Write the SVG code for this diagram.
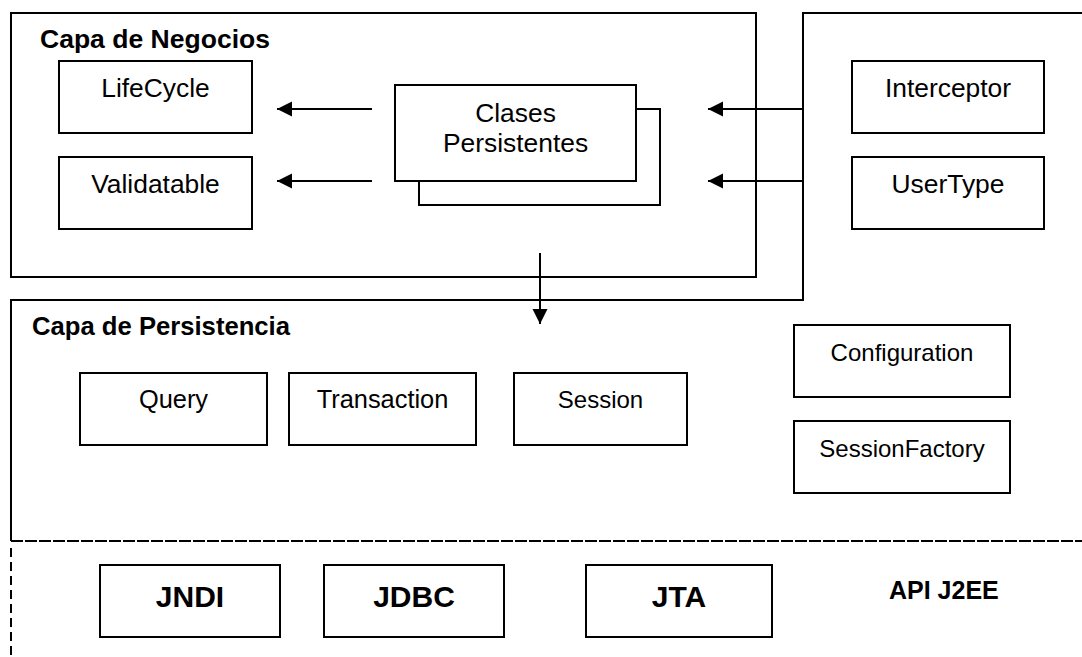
<svg xmlns="http://www.w3.org/2000/svg" width="1082" height="657" viewBox="0 0 1082 657">
<defs>
<style>
.box{fill:#fff;stroke:#000;stroke-width:2}
.ln{fill:none;stroke:#000;stroke-width:2}
.t{font-family:"Liberation Sans",Arial,sans-serif;font-size:24px;fill:#000;text-anchor:middle}
.tl{font-size:26.4px}
.tm{font-size:25.4px}
.h{font-family:"Liberation Sans",Arial,sans-serif;font-size:26px;font-weight:bold;fill:#000}
.b{font-family:"Liberation Sans",Arial,sans-serif;font-size:30px;font-weight:bold;fill:#000;text-anchor:middle}
</style>
<marker id="arr" markerWidth="16" markerHeight="16" refX="15" refY="7.5" orient="auto" markerUnits="userSpaceOnUse">
<path d="M0,0 L15,7.5 L0,15 Z" fill="#000"/>
</marker>
</defs>
<rect width="1082" height="657" fill="#fff"/>
<g id="layers">
<rect id="capa-negocios" x="11" y="13" width="745" height="264" class="ln"/>
<text class="h" x="40" y="48" textLength="230" lengthAdjust="spacingAndGlyphs">Capa de Negocios</text>
<path id="capa-persistencia" d="M1083,13 H803 V300 H11 V541" class="ln"/>
<text class="h" x="32" y="335" textLength="258" lengthAdjust="spacingAndGlyphs">Capa de Persistencia</text>
<line x1="11" y1="541" x2="1082" y2="541" stroke="#000" stroke-width="2" stroke-dasharray="12 2"/>
<line x1="11" y1="548" x2="11" y2="657" stroke="#000" stroke-width="2" stroke-dasharray="9 5"/>
<text class="h" x="889" y="599" style="font-size:25px">API J2EE</text>
</g>
<g id="lifecycle"><rect class="box" x="59" y="61" width="193" height="72"/><text class="t tl" x="155.5" y="97">LifeCycle</text></g>
<g id="validatable"><rect class="box" x="59" y="157" width="193" height="72"/><text class="t tl" x="155.5" y="193">Validatable</text></g>
<g id="clases-persistentes">
<rect class="box" x="419" y="109" width="241" height="96"/>
<rect class="box" x="395" y="85" width="241" height="96"/>
<text class="t tl" x="515.5" y="122">Clases</text>
<text class="t tl" x="515.5" y="152">Persistentes</text>
</g>
<g id="interceptor"><rect class="box" x="852" y="61" width="192" height="72"/><text class="t tl" x="948" y="97">Interceptor</text></g>
<g id="usertype"><rect class="box" x="852" y="157" width="192" height="72"/><text class="t tl" x="948" y="193">UserType</text></g>
<g id="query"><rect class="box" x="80" y="373" width="187" height="72"/><text class="t tm" x="173.5" y="408">Query</text></g>
<g id="transaction"><rect class="box" x="289" y="373" width="187" height="72"/><text class="t tm" x="382.5" y="408">Transaction</text></g>
<g id="session"><rect class="box" x="514" y="373" width="173" height="72"/><text class="t" x="600.5" y="408">Session</text></g>
<g id="configuration"><rect class="box" x="794" y="325" width="216" height="72"/><text class="t" x="902" y="361">Configuration</text></g>
<g id="sessionfactory"><rect class="box" x="794" y="421" width="216" height="72"/><text class="t" x="902" y="457">SessionFactory</text></g>
<g id="jndi"><rect class="box" x="100" y="565" width="180" height="72"/><text class="b" x="190" y="607">JNDI</text></g>
<g id="jdbc"><rect class="box" x="324" y="565" width="180" height="72"/><text class="b" x="414" y="607">JDBC</text></g>
<g id="jta"><rect class="box" x="586" y="565" width="186" height="72"/><text class="b" x="679" y="607">JTA</text></g>
<g id="connectors">
<line class="ln" x1="372" y1="109" x2="277" y2="109" marker-end="url(#arr)"/>
<line class="ln" x1="372" y1="181" x2="277" y2="181" marker-end="url(#arr)"/>
<line class="ln" x1="803" y1="109" x2="708" y2="109" marker-end="url(#arr)"/>
<line class="ln" x1="803" y1="181" x2="708" y2="181" marker-end="url(#arr)"/>
<line class="ln" x1="540" y1="253" x2="540" y2="324" marker-end="url(#arr)"/>
</g>
</svg>
